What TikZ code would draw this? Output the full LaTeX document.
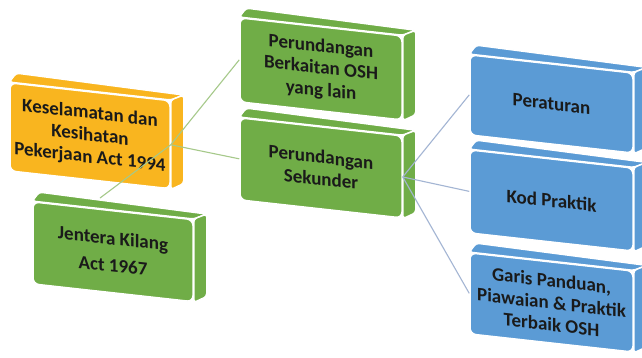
\documentclass[tikz,border=0pt]{standalone}
\usepackage{fontspec}
\setmainfont{Carlito}
\usetikzlibrary{calc}
\definecolor{cOr}{HTML}{F9B51F}
\definecolor{cGr}{HTML}{70AD47}
\definecolor{cBl}{HTML}{5B9BD5}
\definecolor{lnG}{HTML}{A6C98A}
\definecolor{lnB}{HTML}{A3B5D3}
\definecolor{txt}{HTML}{1A1A1A}
\newcommand\drawblock[2]{%
  \draw[bface=#2] (#1.north west) -- ($(#1.north west)+(7,-9)$) -- ($(#1.north east)+(13,-5)$) -- (#1.north east) -- cycle;
  \draw[bface=#2] (#1.north east) -- ($(#1.north east)+(13,-5)$) -- ($(#1.south east)+(13,-6)$) -- (#1.south east) -- cycle;}
\begin{document}
\begin{tikzpicture}[x=1pt,y=-1pt,
  face/.style={rectangle, rounded corners=6pt, fill=#1, draw=white, line width=1.5pt,
    yslant=-0.111, text=txt, font=\bfseries\fontsize{19}{22}\selectfont, align=center, inner sep=0pt},
  bface/.style={fill=#1, draw=white, line width=1.5pt, rounded corners=3pt},
  glink/.style={draw=lnG, line width=1.1pt},
  blink/.style={draw=lnB, line width=1.1pt}]
\fill[white] (0,0) rectangle (642,357);
\useasboundingbox (0,0) rectangle (642,357);
\clip (0,0) rectangle (642,357);

% orange
\node[face=cOr, minimum width=160pt, minimum height=88pt] (ksk) at (90,135.8)
  {Keselamatan dan\\Kesihatan\\Pekerjaan Act 1994};
\drawblock{ksk}{cOr}

% green
\node[face=cGr, minimum width=162pt, minimum height=84pt] (lain) at (321,68.9)
  {Perundangan\\Berkaitan OSH\\yang lain};
\drawblock{lain}{cGr}
\node[face=cGr, minimum width=162pt, minimum height=82pt] (sek) at (321,167.9)
  {Perundangan\\Sekunder};
\drawblock{sek}{cGr}
\node[face=cGr, minimum width=160pt, minimum height=82pt, font=\bfseries\fontsize{19}{27}\selectfont] (jen) at (113,251.8)
  {Jentera Kilang\\Act 1967};
\drawblock{jen}{cGr}

% blue
\node[face=cBl, minimum width=163pt, minimum height=80pt] (per) at (551.5,104)
  {Peraturan};
\drawblock{per}{cBl}
\node[face=cBl, minimum width=163pt, minimum height=83pt] (kod) at (551.5,200.5)
  {Kod Praktik};
\drawblock{kod}{cBl}
\node[face=cBl, minimum width=163pt, minimum height=81pt] (gar) at (551.5,302.5)
  {Garis Panduan,\\Piawaian \& Praktik\\Terbaik OSH};
\drawblock{gar}{cBl}

% connectors
\coordinate (jenTop) at ($(jen.north)+(-13,-12)$);
\draw[glink] (ksk.east) -- (lain.west);
\draw[glink] (ksk.east) -- (sek.west);
\draw[glink] (ksk.east) -- (jenTop);
\draw[blink] (sek.east) -- (per.west);
\draw[blink] (sek.east) -- (kod.west);
\draw[blink] (sek.east) -- (gar.west);
\end{tikzpicture}
\end{document}
